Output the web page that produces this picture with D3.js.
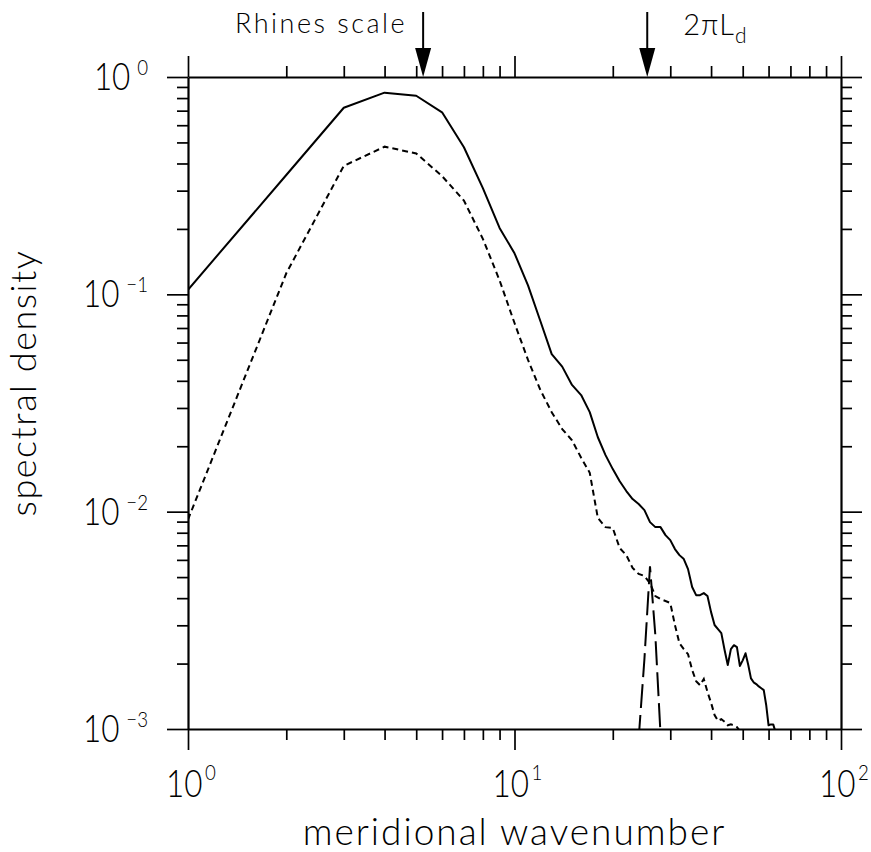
<!DOCTYPE html>
<html>
<head>
<meta charset="utf-8">
<script src="https://cdn.jsdelivr.net/npm/d3@7"></script>
<style>
  html, body { margin: 0; padding: 0; background: #fff; }
  svg { display: block; }
  text { font-family: "Lato", "Liberation Sans", Arial, sans-serif; font-weight: 300; fill: #000; }
</style>
</head>
<body>
<svg id="chart" width="871" height="852"></svg>
<script>
// ---------------- data ----------------
const solidK = [1,2,3,4,5,6,7,8,9,10,11,12,13,14,15,16,17,18,19,20,21,22,23,24,25,26,27,28,29,30,31,32,33,34,35,36,37,38,39,40,41,42,43,44,45,46,47,48,49,50,51,52,53,54,55,56,57,58,59,60,61,62,63];
const solidV = [0.105,0.354,0.722,0.847,0.820,0.688,0.475,0.308,0.202,0.1545,0.110,0.0754,0.0531,0.0465,0.0383,0.0344,0.0287,0.0220,0.0182,0.0157,0.0138,0.01244,0.01143,0.01084,0.01017,0.00895,0.00849,0.00849,0.00780,0.00740,0.00673,0.00631,0.00605,0.00544,0.00450,0.00413,0.00413,0.00422,0.00409,0.00345,0.00301,0.00288,0.00276,0.00231,0.00197,0.00233,0.00243,0.00238,0.00195,0.00207,0.00223,0.00197,0.00171,0.00164,0.00161,0.00157,0.00154,0.00151,0.00129,0.00104,0.00105,0.00105,0.00097];

const dottedK = [1,2,3,4,5,6,7,8,9,10,11,12,13,14,15,16,17,18,19,20,21,22,23,24,25,26,27,28,29,30,31,32,33,34,35,36,37,38,39,40,41,42,43,44,45,46,47,48,49];
const dottedV = [0.0092,0.125,0.39,0.478,0.445,0.35,0.27,0.180,0.116,0.0738,0.0499,0.0363,0.0287,0.0240,0.0213,0.0177,0.0151,0.00935,0.00849,0.00840,0.00680,0.00631,0.00551,0.00517,0.00506,0.00469,0.00409,0.00396,0.00388,0.00380,0.00301,0.00248,0.00233,0.00221,0.00187,0.00166,0.00159,0.00170,0.00148,0.00132,0.00116,0.00109,0.00111,0.00108,0.00104,0.00105,0.00104,0.00102,0.00098];

const dashedK = [24,25,26,27,28];
const dashedV = [0.0009,0.0021,0.0056,0.0027,0.00095];

const xMajor = [1,10,100];
const xMinor = [2,3,4,5,6,7,8,9,20,30,40,50,60,70,80,90];
const yMajor = [0.001,0.01,0.1,1];
const yMinor = [0.002,0.003,0.004,0.005,0.006,0.007,0.008,0.009,0.02,0.03,0.04,0.05,0.06,0.07,0.08,0.09,0.2,0.3,0.4,0.5,0.6,0.7,0.8,0.9];
const xExp = ["0","1","2"];
const yExp = ["\u22123","\u22122","\u22121","0"];

const markerK = [5.25, 25.5];
const markerLabels = ["Rhines scale", "2\u03C0L"];

const xTitle = "meridional wavenumber";
const yTitle = "spectral density";

// ---------------- layout ----------------
const svg = d3.select("#chart");
const L = 188, R = 841, T = 77, B = 729;
const x = d3.scaleLog().domain([1,100]).range([L,R]);
const y = d3.scaleLog().domain([1e-3,1]).range([B,T]);

svg.append("defs").append("clipPath").attr("id","clip")
  .append("rect").attr("x",L).attr("y",T).attr("width",R-L).attr("height",B-T);

function drawAxis(axisFn, scale, tx, ty) {
  const isX = scale === x;
  const gMin = svg.append("g").attr("transform",`translate(${tx},${ty})`)
    .call(axisFn(scale).tickValues(isX ? xMinor : yMinor).tickSize(11).tickSizeOuter(0).tickFormat(""));
  const gMaj = svg.append("g").attr("transform",`translate(${tx},${ty})`)
    .call(axisFn(scale).tickValues(isX ? xMajor : yMajor).tickSize(21).tickSizeOuter(0).tickFormat(""));
  gMin.select(".domain").remove();
  [gMin,gMaj].forEach(g=>{
    g.selectAll(".tick line").attr("stroke","#000").attr("stroke-width",1.7);
  });
  gMaj.select(".domain").attr("stroke","#000").attr("stroke-width",2.2);
}
drawAxis(d3.axisBottom, x, 0, B);
drawAxis(d3.axisTop, x, 0, T);
drawAxis(d3.axisLeft, y, L, 0);
drawAxis(d3.axisRight, y, R, 0);

// tick labels (slightly condensed, like the original lettering)
xMajor.forEach((v,i)=>{
  const g = svg.append("g").attr("transform",`translate(${x(v)+3},797) scale(0.85,1)`);
  const t = g.append("text").attr("text-anchor","middle").attr("font-size",37);
  t.append("tspan").text("10");
  t.append("tspan").attr("dy",-17).attr("font-size",22).attr("dx",3).text(xExp[i]);
});
yMajor.forEach((v,i)=>{
  const g = svg.append("g").attr("transform",`translate(148,${y(v)+13}) scale(0.85,1)`);
  const t = g.append("text").attr("text-anchor","end").attr("font-size",37);
  t.append("tspan").text("10");
  t.append("tspan").attr("dy",-15).attr("font-size",22).attr("dx",8).text(yExp[i]);
});

// titles
svg.append("text").attr("x",(L+R)/2).attr("y",845).attr("text-anchor","middle")
  .attr("font-size",37).attr("letter-spacing",2).text(xTitle);
svg.append("text").attr("transform",`translate(36,${(T+B)/2 - 20}) rotate(-90)`)
  .attr("text-anchor","middle").attr("font-size",36).attr("letter-spacing",1.5).text(yTitle);

// curves
const line = d3.line().x(d=>x(d[0])).y(d=>y(d[1]));
const plot = svg.append("g").attr("clip-path","url(#clip)");
plot.append("path").datum(d3.zip(solidK,solidV)).attr("d",line)
  .attr("fill","none").attr("stroke","#000").attr("stroke-width",2).attr("stroke-linejoin","round");
plot.append("path").datum(d3.zip(dottedK,dottedV)).attr("d",line)
  .attr("fill","none").attr("stroke","#000").attr("stroke-width",2).attr("stroke-dasharray","6,4");
plot.append("path").datum(d3.zip(dashedK,dashedV)).attr("d",line)
  .attr("fill","none").attr("stroke","#000").attr("stroke-width",2).attr("stroke-dasharray","24,7");

// markers (arrows)
markerK.forEach((k,i)=>{
  const xx = x(k);
  svg.append("line").attr("x1",xx).attr("x2",xx).attr("y1",12).attr("y2",60)
    .attr("stroke","#000").attr("stroke-width",2);
  svg.append("path").attr("d",`M${xx-8},48 L${xx+8},48 L${xx},${T} Z`).attr("fill","#000");
});
svg.append("text").attr("x",x(markerK[0])-16).attr("y",33).attr("text-anchor","end")
  .attr("font-size",27).attr("letter-spacing",2.5).text(markerLabels[0]);
const lt = svg.append("text").attr("x",x(markerK[1])+36).attr("y",35).attr("font-size",29).attr("letter-spacing",1);
lt.append("tspan").text(markerLabels[1]);
lt.append("tspan").attr("dy",8).attr("font-size",21).text("d");
</script>
</body>
</html>
